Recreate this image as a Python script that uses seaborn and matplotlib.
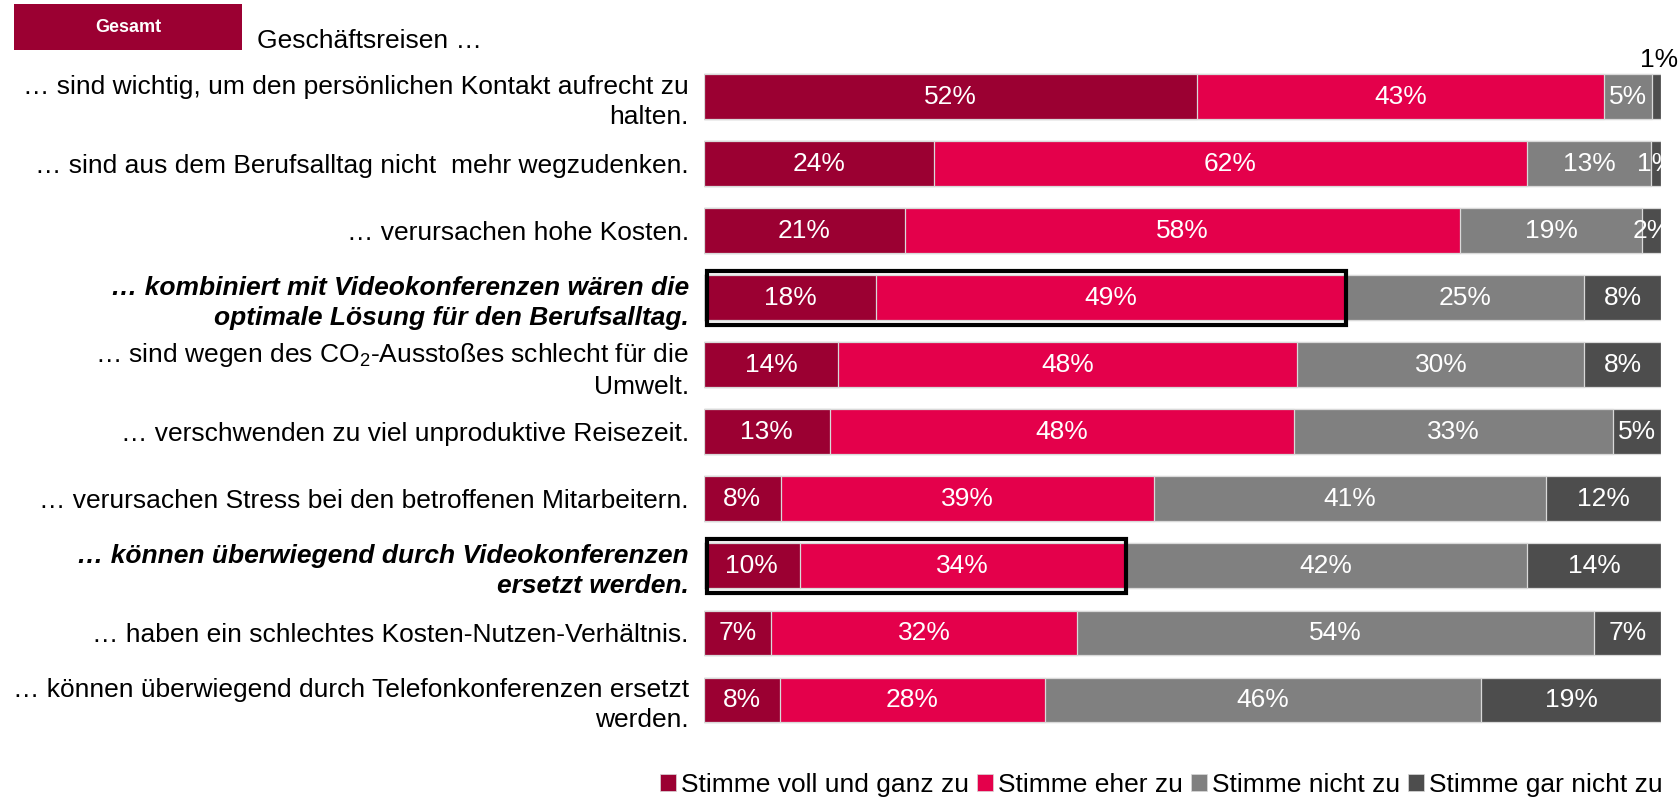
import pandas as pd
import numpy as np
import matplotlib.pyplot as plt
import seaborn as sns
from matplotlib.patches import Patch, Rectangle

# Data
statements = [
    '… sind wichtig, um den persönlichen Kontakt aufrecht zu\nhalten.',
    '… sind aus dem Berufsalltag nicht  mehr wegzudenken.',
    '… verursachen hohe Kosten.',
    '… kombiniert mit Videokonferenzen wären die\noptimale Lösung für den Berufsalltag.',
    '… sind wegen des CO$_2$-Ausstoßes schlecht für die\nUmwelt.',
    '… verschwenden zu viel unproduktive Reisezeit.',
    '… verursachen Stress bei den betroffenen Mitarbeitern.',
    '… können überwiegend durch Videokonferenzen\nersetzt werden.',
    '… haben ein schlechtes Kosten-Nutzen-Verhältnis.',
    '… können überwiegend durch Telefonkonferenzen ersetzt\nwerden.',
]
voll = [52, 24, 21, 18, 14, 13, 8, 10, 7, 8]
eher = [43, 62, 58, 49, 48, 48, 39, 34, 32, 28]
nicht = [5, 13, 19, 25, 30, 33, 41, 42, 54, 46]
gar_nicht = [1, 1, 2, 8, 8, 5, 12, 14, 7, 19]
highlight = [False, False, False, True, False, False, False, True, False, False]

series = ['Stimme voll und ganz zu', 'Stimme eher zu', 'Stimme nicht zu', 'Stimme gar nicht zu']
colors = ['#9B0032', '#E4004B', '#808080', '#4D4D4D']
label_above = [(0, 3)]  # segment label written above the bar

sns.set_theme(style='white')
plt.rcParams['font.family'] = ['Liberation Sans', 'DejaVu Sans']
plt.rcParams['mathtext.fontset'] = 'custom'
plt.rcParams['mathtext.rm'] = 'Liberation Sans'
plt.rcParams['mathtext.default'] = 'regular'
plt.rcParams['text.color'] = 'black'
plt.rcParams['ytick.color'] = 'black'
plt.rcParams['ytick.labelcolor'] = 'black'

df = pd.DataFrame({'Aussage': statements, series[0]: voll, series[1]: eher,
                   series[2]: nicht, series[3]: gar_nicht})
vals = df[series].to_numpy(dtype=float)
shares = vals / vals.sum(axis=1, keepdims=True) * 100
cum = np.cumsum(shares, axis=1)
for j in range(4):
    df[f'cum{j}'] = cum[:, j]

fig = plt.figure(figsize=(16.79, 8.0), dpi=100)
ax = fig.add_axes([0.4193, 0.0831, 0.5700, 0.838])

bar_w = 0.67
for j in range(3, -1, -1):
    sns.barplot(data=df, x=f'cum{j}', y='Aussage', color=colors[j], saturation=1,
                width=bar_w, edgecolor='#D9D9D9', linewidth=0.9, orient='h', ax=ax)

# segment labels
for i in range(len(statements)):
    start = 0
    for j in range(4):
        mid = start + shares[i, j] / 2
        if (i, j) in label_above:
            ax.text(mid + 0.3, i - bar_w / 2 - 0.03, f'{int(vals[i, j])}%', ha='center',
                    va='bottom', color='black', fontsize=19)
        else:
            ax.text(mid, i, f'{int(vals[i, j])}%', ha='center', va='center',
                    color='white', fontsize=19)
        start += shares[i, j]
    if highlight[i]:
        pad = 0.07
        ax.add_patch(Rectangle((0.35, i - bar_w / 2 - pad), cum[i, 1] - 0.25, bar_w + 2 * pad,
                               fill=False, edgecolor='black', linewidth=3, zorder=5,
                               clip_on=False))

ax.set_xlim(0, 100)
ax.set_ylim(len(statements) - 0.5, -0.5)
ax.set_xlabel('')
ax.set_ylabel('')
ax.set_xticks([])
ax.tick_params(axis='y', length=0, pad=11, labelsize=19, labelcolor='black')
for i, lab in enumerate(ax.get_yticklabels()):
    lab.set_linespacing(1.3)
    if highlight[i]:
        lab.set_fontweight('bold')
        lab.set_fontstyle('italic')
sns.despine(ax=ax, left=True, bottom=True)

# header
fig.patches.append(Rectangle((14 / 1679, 1 - 50 / 800), 228 / 1679, 46 / 800,
                             transform=fig.transFigure, facecolor='#9B0032', edgecolor='none'))
fig.text(128 / 1679, 1 - 27 / 800, 'Gesamt', ha='center', va='center', color='white',
         fontsize=13, fontweight='bold')
fig.text(257 / 1679, 1 - 48 / 800, 'Geschäftsreisen …', ha='left', va='baseline', fontsize=19)

# legend
handles = [Patch(facecolor=c, edgecolor='#D9D9D9', linewidth=0.5) for c in colors]
leg = fig.legend(handles, series, loc='center right', bbox_to_anchor=(1663 / 1679, 1 - 785 / 800),
                 ncol=4, frameon=False, fontsize=19, handlelength=0.6, handleheight=0.6,
                 handletextpad=0.2, columnspacing=0.3, borderaxespad=0, borderpad=0)
for t in leg.get_texts():
    t.set_color('black')

fig.savefig('out.png', dpi=100)
